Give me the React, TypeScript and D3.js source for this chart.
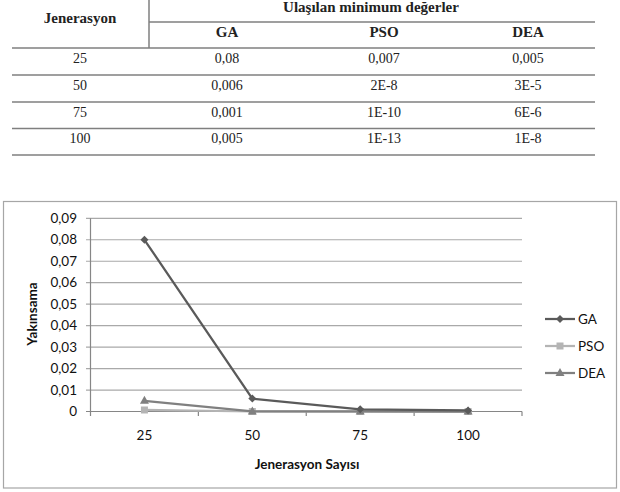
import React from "react";
import * as d3 from "d3";

const generations = ["25", "50", "75", "100"];
const seriesNames = ["GA", "PSO", "DEA"];
const tableGA = ["0,08", "0,006", "0,001", "0,005"];
const tablePSO = ["0,007", "2E-8", "1E-10", "1E-13"];
const tableDEA = ["0,005", "3E-5", "6E-6", "1E-8"];
const gaValues = [0.08, 0.006, 0.001, 0.0005];
const psoValues = [0.0007, 2e-8, 1e-10, 1e-13];
const deaValues = [0.005, 3e-5, 6e-6, 1e-8];
const yTicks = [0, 0.01, 0.02, 0.03, 0.04, 0.05, 0.06, 0.07, 0.08, 0.09];

const colors: Record<string, string> = { GA: "#5a5a5a", PSO: "#b4b4b4", DEA: "#808080" };

function Marker({ name, x, y }: { name: string; x: number; y: number }) {
  const c = colors[name];
  if (name === "GA") {
    const s = 4;
    return <path d={`M${x},${y - s}L${x + s},${y}L${x},${y + s}L${x - s},${y}Z`} fill={c} />;
  }
  if (name === "PSO") {
    return <rect x={x - 3.5} y={y - 3.5} width={7} height={7} fill={c} />;
  }
  return <path d={`M${x},${y - 5}L${x + 4.5},${y + 3}L${x - 4.5},${y + 3}Z`} fill={c} />;
}

export default function App() {
  const serif = "'Liberation Serif', 'Times New Roman', serif";
  const sans = "Lato, 'Open Sans', sans-serif";
  const lineCol = "#7f7f7f";
  const colX = [80, 227, 384, 528];
  const rowLines = [48, 75, 102, 128.5, 155];

  const x = d3.scalePoint<string>().domain(generations).range([90.5, 522]).padding(0.5);
  const bandStep = x.step();
  const y = d3.scaleLinear().domain([0, 0.09]).range([411.5, 218.3]);
  const data: Record<string, number[]> = { GA: gaValues, PSO: psoValues, DEA: deaValues };
  const line = d3
    .line<number>()
    .x((_, i) => x(generations[i]) as number)
    .y((d) => y(d));
  const drawOrder = ["PSO", "DEA", "GA"];
  const tickBoundaries = d3.range(generations.length + 1).map((i) => 90.5 + i * bandStep);

  return (
    <svg width={620} height={492} style={{ position: "absolute", left: 0, top: 0, background: "#fff" }}>
      <g fontFamily={serif} fill="#222">
        <line x1={149} x2={149} y1={0} y2={48} stroke={lineCol} strokeWidth={1.5} />
        <line x1={149} x2={595} y1={22} y2={22} stroke={lineCol} strokeWidth={1.5} />
        {rowLines.map((ly, i) => (
          <line key={i} x1={12} x2={595} y1={ly} y2={ly} stroke={lineCol} strokeWidth={1.5} />
        ))}
        <text x={371} y={12} textAnchor="middle" fontWeight="bold" fontSize={15}>
          Ulaşılan minimum değerler
        </text>
        <text x={colX[0]} y={23} textAnchor="middle" fontWeight="bold" fontSize={15}>
          Jenerasyon
        </text>
        {seriesNames.map((n, i) => (
          <text key={n} x={colX[i + 1]} y={36.5} textAnchor="middle" fontWeight="bold" fontSize={15}>
            {n}
          </text>
        ))}
        {generations.map((g, r) => {
          const by = rowLines[r] + 14.5;
          return (
            <g key={g} fontSize={14}>
              <text x={colX[0]} y={by} textAnchor="middle">{g}</text>
              <text x={colX[1]} y={by} textAnchor="middle">{tableGA[r]}</text>
              <text x={colX[2]} y={by} textAnchor="middle">{tablePSO[r]}</text>
              <text x={colX[3]} y={by} textAnchor="middle">{tableDEA[r]}</text>
            </g>
          );
        })}
      </g>

      <rect x={3.5} y={201.5} width={613} height={286.5} fill="#fff" stroke="#a6a6a6" strokeWidth={1.2} />

      <g fontFamily={sans} fill="#111">
        {yTicks.map((t) => (
          <g key={t}>
            <line x1={86} x2={522} y1={y(t)} y2={y(t)} stroke={t === 0 ? "#868686" : "#a9a9a9"} strokeWidth={1.2} />
            <text x={77} y={y(t)} dy="0.35em" textAnchor="end" fontSize={13.5}>
              {d3.format(".2f")(t).replace(".", ",").replace(/^0,00$/, "0")}
            </text>
          </g>
        ))}
        <line x1={90.5} x2={90.5} y1={218.3} y2={411.5} stroke="#868686" strokeWidth={1.2} />
        {tickBoundaries.map((tx, i) => (
          <line key={i} x1={tx} x2={tx} y1={411.5} y2={416} stroke="#868686" strokeWidth={1.2} />
        ))}
        {generations.map((g) => (
          <text key={g} x={x(g)} y={440} textAnchor="middle" fontSize={13.5}>
            {g}
          </text>
        ))}
        <text x={307} y={469} textAnchor="middle" fontSize={13.5} fontWeight="bold">
          Jenerasyon Sayısı
        </text>
        <text transform="translate(37,314) rotate(-90)" textAnchor="middle" fontSize={13.5} fontWeight="bold">
          Yakınsama
        </text>

        {drawOrder.map((n) => (
          <g key={n}>
            <path d={line(data[n]) || ""} fill="none" stroke={colors[n]} strokeWidth={2.25} />
            {data[n].map((v, i) => (
              <Marker key={i} name={n} x={x(generations[i]) as number} y={y(v)} />
            ))}
          </g>
        ))}

        {seriesNames.map((n, i) => {
          const ly = 319 + i * 27;
          return (
            <g key={n}>
              <line x1={545} x2={575} y1={ly} y2={ly} stroke={colors[n]} strokeWidth={2.25} />
              <Marker name={n} x={560} y={ly} />
              <text x={578} y={ly} dy="0.35em" fontSize={13.5}>
                {n}
              </text>
            </g>
          );
        })}
      </g>
    </svg>
  );
}
